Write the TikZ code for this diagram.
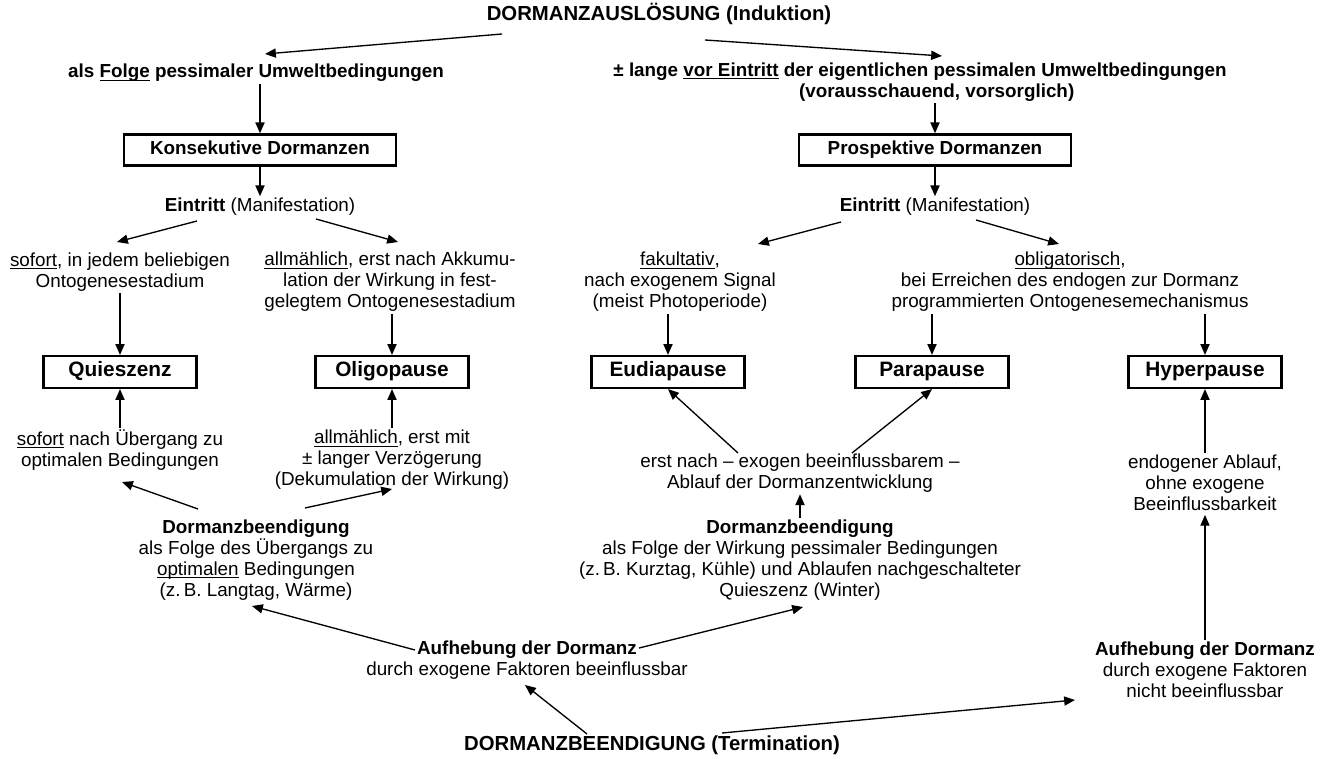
\documentclass[tikz,border=0pt]{standalone}
\usepackage{fontspec}
\setmainfont{Liberation Sans}
\usepackage{tikz}
\usetikzlibrary{arrows.meta,calc}
\newsavebox{\untbox}
\newcommand{\unt}[1]{\sbox{\untbox}{#1}\rlap{\rule[-1.8pt]{\wd\untbox}{0.75pt}}\usebox{\untbox}}

\begin{document}
\begin{tikzpicture}[
    x=0.6pt, y=-0.6pt,
    >={Triangle[length=6.5pt,width=5.5pt]},
    txt/.style={
        align=center, inner sep=1pt,
        font=\fontsize{11.3}{12.6}\selectfont
    },
    hd/.style={
        align=center, inner sep=1pt,
        font=\fontsize{11.3}{12.6}\selectfont\bfseries
    },
    big/.style={
        align=center, inner sep=1pt,
        font=\fontsize{12.2}{14}\selectfont\bfseries
    },
    dbox/.style={
        rectangle, draw, line width=1.5pt,
        minimum width=163pt, minimum height=18.6pt,
        text height=0.72em, text depth=0.2em,
        font=\fontsize{11.3}{12.6}\selectfont\bfseries
    },
    pbox/.style={
        rectangle, draw, line width=1.5pt,
        minimum width=92pt, minimum height=19pt,
        text height=0.72em, text depth=0.2em,
        font=\fontsize{12.5}{14}\selectfont\bfseries
    },
    arr/.style={->, line width=0.8pt},
]
\useasboundingbox (0,0) rectangle (1330,759);

% ── Induktion ──
\node[big] (induk) at (659,14) {DORMANZAUSLÖSUNG (Induktion)};
\node[hd] (folge) at (256,73) {als \unt{Folge} pessimaler Umweltbedingungen};
\node[hd] (vor) at (920,82)
    {± lange \unt{vor Eintritt} der eigentlichen pessimalen Umweltbedingungen\\
     \hspace*{20pt}(vorausschauend, vorsorglich)};

\draw[arr] ($(induk)+(-157,20)$) -- ($(folge)+(9,-19)$);
\draw[arr] ($(induk)+(46,26)$) -- ($(vor)+(22,-26)$);

% ── Dormanztypen ──
\node[dbox] (konsek) at (260,150) {Konsekutive Dormanzen};
\node[dbox] (prosp)  at (935,150) {Prospektive Dormanzen};

\draw[arr] (konsek.north |- folge.south) -- (konsek.north);
\draw[arr] (prosp.north |- vor.south) -- (prosp.north);

% ── Eintritt ──
\node[txt] (eintr1) at (260,207) {\textbf{Eintritt} (Manifestation)};
\node[txt] (eintr2) at (935,207) {\textbf{Eintritt} (Manifestation)};

\draw[arr] (konsek.south) -- (eintr1.north);
\draw[arr] (prosp.south) -- (eintr2.north);

\node[txt] (sofort) at (120,272)
    {\unt{sofort}, in jedem beliebigen\\Ontogenesestadium};
\node[txt] (allm) at (390,282)
    {\unt{allmählich}, erst nach Akkumu-\\lation der Wirkung in fest-\\gelegtem Ontogenesestadium};
\node[txt] (fakult) at (680,282)
    {\unt{fakultativ},\\nach exogenem Signal\\(meist Photoperiode)};
\node[txt] (oblig) at (1070,282)
    {\unt{obligatorisch},\\bei Erreichen des endogen zur Dormanz\\programmierten Ontogenesemechanismus};

\draw[arr] ($(eintr1)+(-63,14)$) -- ($(sofort)+(-3,-30)$);
\draw[arr] ($(eintr1)+(56,12)$) -- ($(allm)+(8,-40)$);
\draw[arr] ($(eintr2)+(-94,15)$) -- ($(fakult)+(78,-38)$);
\draw[arr] ($(eintr2)+(41,13)$) -- ($(oblig)+(-11,-38)$);

% ── Dormanzformen ──
\node[pbox] (quies) at (120,372) {Quieszenz};
\node[pbox] (oligo) at (392,372) {Oligopause};
\node[pbox] (eudia) at (668,372) {Eudiapause};
\node[pbox] (para)  at (932,372) {Parapause};
\node[pbox] (hyper) at (1205,372) {Hyperpause};

\draw[arr] (sofort.south) -- (quies.north);
\draw[arr] (oligo.north |- allm.south) -- (oligo.north);
\draw[arr] (eudia.north |- fakult.south) -- (eudia.north);
\draw[arr] (para.north |- oblig.south) -- (para.north);
\draw[arr] (hyper.north |- oblig.south) -- (hyper.north);

% ── Beendigung ──
\node[txt] (sofnach) at (120,450)
    {\unt{sofort} nach Übergang zu\\optimalen Bedingungen};
\node[txt] (allmit) at (392,460)
    {\unt{allmählich}, erst mit\\± langer Verzögerung\\(Dekumulation der Wirkung)};
\node[txt] (erstn) at (800,473)
    {erst nach -- exogen beeinflussbarem --\\Ablauf der Dormanzentwicklung};
\node[txt] (endog) at (1205,483)
    {endogener Ablauf,\\ohne exogene\\Beeinflussbarkeit};

\draw[arr] (sofnach.north) -- (quies.south);
\draw[arr] (allmit.north) -- (oligo.south);
\draw[arr] ($(erstn)+(-62,-20)$) -- (eudia.south);
\draw[arr] ($(erstn)+(52,-20)$) -- (para.south);
\draw[arr] (endog.north) -- (hyper.south);

\node[txt] (dbeendl) at (256,560)
    {\textbf{Dormanzbeendigung}\\als Folge des Übergangs zu\\\unt{optimalen} Bedingungen\\(z.\,B. Langtag, Wärme)};
\node[txt] (dbeendm) at (800,560)
    {\textbf{Dormanzbeendigung}\\als Folge der Wirkung pessimaler Bedingungen\\(z.\,B. Kurztag, Kühle) und Ablaufen nachgeschalteter\\Quieszenz (Winter)};

\draw[arr] ($(dbeendl)+(-58,-51)$) -- ($(sofnach)+(2,32)$);
\draw[arr] ($(dbeendl)+(49,-52)$) -- ($(allmit)+(0,29)$);
\draw[arr] (dbeendm.north) -- (erstn.south);

% ── Aufhebung ──
\node[txt] (aufhl) at (527,660)
    {\textbf{Aufhebung der Dormanz}\\durch exogene Faktoren beeinflussbar};
\node[txt] (aufhr) at (1205,670)
    {\textbf{Aufhebung der Dormanz}\\durch exogene Faktoren\\nicht beeinflussbar};

\draw[arr] ($(aufhl)+(-112,-10)$) -- ($(dbeendl)+(-4,46)$);
\draw[arr] ($(aufhl)+(112,-12)$) -- ($(dbeendm)+(3,47)$);
\draw[arr] (aufhr.north) -- ($(endog.south)+(0,2)$);

% ── Termination ──
\node[big] (termin) at (652,745) {DORMANZBEENDIGUNG (Termination)};

\draw[arr] ($(termin)+(-65,-11)$) -- ($(aufhl)+(-2,25)$);
\draw[arr] ($(termin)+(70,-12)$) -- ($(aufhr)+(-130,30)$);

\end{tikzpicture}
\end{document}
